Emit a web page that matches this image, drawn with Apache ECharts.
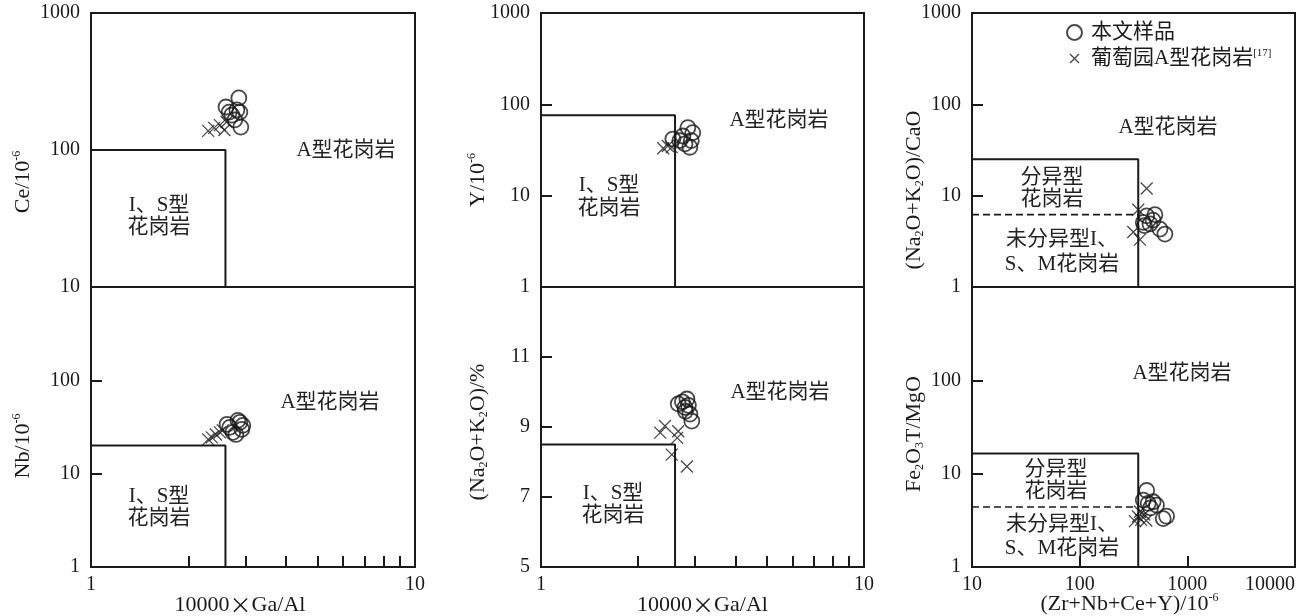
<!DOCTYPE html>
<html><head><meta charset="utf-8">
<script src="https://cdn.jsdelivr.net/npm/echarts@6/dist/echarts.min.js"></script>
<style>html,body{margin:0;padding:0;background:#fff}#c{width:1307px;height:616px}</style>
</head><body><div id="c"></div>
<script>
// ---------------- Data ----------------
// Panel (a): Ce vs 10000×Ga/Al
const aSampleGaAl = [2.86, 2.61, 2.82, 2.72, 2.88, 2.90, 2.78, 2.67];
const aSampleCe   = [240, 206, 196, 180, 189, 147, 166, 189];
const aRefGaAl    = [2.30, 2.40, 2.50, 2.58, 2.62];
const aRefCe      = [138, 145, 152, 140, 160];
const aBoxGaAl    = [1, 2.6, 2.6];
const aBoxCe      = [100, 100, 10];

// Panel (b): Nb vs 10000×Ga/Al
const bSampleGaAl = [2.63, 2.84, 2.92, 2.74, 2.94, 2.68, 2.80, 2.88];
const bSampleNb   = [33.8, 37.2, 29.8, 27.7, 32.9, 31.3, 26.3, 35.5];
const bRefGaAl    = [2.30, 2.36, 2.43, 2.50, 2.55];
const bRefNb      = [23.3, 24.5, 26.3, 27.7, 29.1];
const bBoxGaAl    = [1, 2.6, 2.6];
const bBoxNb      = [20, 20, 1];

// Panel (c): Y vs 10000×Ga/Al
const cSampleGaAl = [2.85, 2.95, 2.56, 2.69, 2.89, 2.79, 2.75, 2.92];
const cSampleY    = [55.6, 49, 41.7, 40, 33.9, 36.9, 45, 40];
const cRefGaAl    = [2.39, 2.47, 2.54];
const cRefY       = [33, 35, 34];
const cBoxGaAl    = [1, 2.6, 2.6];
const cBoxY       = [76, 76, 1];

// Panel (d): (Na2O+K2O) vs 10000×Ga/Al
const dSampleGaAl = [2.66, 2.83, 2.79, 2.89, 2.93, 2.74, 2.86, 2.80];
const dSampleAlk  = [9.66, 9.80, 9.56, 9.37, 9.17, 9.72, 9.62, 9.45];
const dRefGaAl    = [2.34, 2.42, 2.66, 2.64, 2.54, 2.83];
const dRefAlk     = [8.84, 9.03, 8.88, 8.69, 8.21, 7.87];
const dBoxGaAl    = [1, 2.6, 2.6];
const dBoxAlk     = [8.5, 8.5, 5];

// Panel (e): (Na2O+K2O)/CaO vs Zr+Nb+Ce+Y
const eSampleZr   = [419, 500, 390, 450, 557, 619, 400, 480];
const eSampleRat  = [6.0, 6.2, 5.1, 4.9, 4.3, 3.8, 4.7, 5.4];
const eRefZr      = [419, 350, 315, 363];
const eRefRat     = [12, 7, 4, 3.3];
const eBoxZr      = [10, 350, 350];
const eBoxRat     = [25, 25, 1];
const eDashZr     = [10, 350];
const eDashRat    = [6.2, 6.2];

// Panel (f): Fe2O3T/MgO vs Zr+Nb+Ce+Y
const fSampleZr   = [419, 390, 481, 517, 642, 597, 433, 455];
const fSampleRat  = [6.6, 5.2, 5.0, 4.6, 3.5, 3.3, 4.8, 4.3];
const fRefZr      = [348, 372, 398, 326, 415, 363];
const fRefRat     = [3.47, 3.2, 3.65, 3.1, 3.15, 3.9];
const fBoxZr      = [10, 350, 350];
const fBoxRat     = [16.4, 16.4, 1];
const fDashZr     = [10, 350];
const fDashRat    = [4.4, 4.4];

// Tick values
const gaAlMinorTicks = [2, 3, 4, 5, 6, 7, 8, 9];
const gaAlLabels     = [1, 10];
const alkTicks       = [7, 9, 11];
const alkLabels      = [5, 7, 9, 11];

// Series names
const SAMPLE = '本文样品';
const REF = '葡萄园A型花岗岩';

// ---------------- Styling ----------------
const FONT = '"Liberation Serif","Noto Sans CJK SC",serif';
const CJK = '"Liberation Serif","Noto Sans CJK SC",sans-serif';
const INK = '#1a1a1a';
const CROSS = 'path://M0,0L10,10M10,0L0,10';
const RICH = {
  sup: {fontSize: 12, lineHeight: 12, verticalAlign: 'top', fontFamily: FONT, color: INK},
  sub: {fontSize: 12, lineHeight: 12, verticalAlign: 'bottom', fontFamily: FONT, color: INK},
  x: {fontSize: 22, fontFamily: '"Noto Sans CJK SC"', color: INK}
};
const plain = v => String(Math.round(v * 1000) / 1000);

function zip(xs, ys) { return xs.map((x, i) => [x, ys[i]]); }

const gridRects = [
  {left: 91, top: 13, width: 324, height: 274},
  {left: 91, top: 287, width: 324, height: 280},
  {left: 541, top: 13, width: 323, height: 274},
  {left: 541, top: 287, width: 323, height: 280},
  {left: 972, top: 13, width: 323, height: 274},
  {left: 972, top: 287, width: 323, height: 280}
];
const grid = gridRects.map(g => Object.assign({
  show: true, borderColor: INK, borderWidth: 2, backgroundColor: 'rgba(0,0,0,0)',
  containLabel: false, outerBoundsMode: 'none'
}, g));

const tickStyle = {inside: true, length: 11, lineStyle: {color: INK, width: 2}};
const labelStyle = {fontSize: 20, fontFamily: FONT, color: INK, formatter: plain};

function topX(gi, min, max) {
  return {type: 'log', logBase: 10, gridIndex: gi, min, max,
    axisLine: {show: false}, axisTick: {show: false}, axisLabel: {show: false}, splitLine: {show: false}};
}
function botX(gi, extra) {
  return Object.assign({
    gridIndex: gi, axisLine: {show: false}, splitLine: {show: false},
    nameLocation: 'middle', nameGap: 27, nameMoveOverlap: false
  }, extra);
}
function yAx(gi, extra, name, gap, pad) {
  return Object.assign({
    gridIndex: gi, axisLine: {show: false}, splitLine: {show: false},
    axisTick: tickStyle,
    axisLabel: Object.assign({margin: 11}, labelStyle),
    name, nameLocation: 'middle', nameRotate: 90, nameGap: gap, nameMoveOverlap: false,
    nameTextStyle: {fontSize: 22, lineHeight: 24, fontFamily: FONT, color: INK, padding: [0, pad, 0, 0], rich: RICH}
  }, extra);
}

const xAxis = [
  topX(0, 1, 10),
  botX(1, {type: 'log', logBase: 10, min: 1, max: 10,
    axisTick: Object.assign({customValues: gaAlMinorTicks}, tickStyle),
    axisLabel: Object.assign({customValues: gaAlLabels, margin: 8}, labelStyle),
    name: '10000{x|×}Ga/Al',
    nameTextStyle: {fontSize: 22, fontFamily: FONT, color: INK, padding: [0, 26, 0, 0], rich: RICH}}),
  topX(2, 1, 10),
  botX(3, {type: 'log', logBase: 10, min: 1, max: 10,
    axisTick: Object.assign({customValues: gaAlMinorTicks}, tickStyle),
    axisLabel: Object.assign({customValues: gaAlLabels, margin: 8}, labelStyle),
    name: '10000{x|×}Ga/Al',
    nameTextStyle: {fontSize: 22, fontFamily: FONT, color: INK, rich: RICH}}),
  topX(4, 10, 10000),
  botX(5, {type: 'log', logBase: 10, min: 10, max: 10000,
    axisTick: tickStyle,
    axisLabel: Object.assign({margin: 8, alignMaxLabel: 'right'}, labelStyle),
    name: '(Zr+Nb+Ce+Y)/10{sup|-6}', nameGap: 25,
    nameTextStyle: {fontSize: 22, lineHeight: 24, fontFamily: FONT, color: INK, padding: [0, 8, 0, 0], rich: RICH}})
];

const yAxis = [
  yAx(0, {type: 'log', logBase: 10, min: 10, max: 1000}, 'Ce/10{sup|-6}', 56, 64),
  yAx(1, {type: 'log', logBase: 10, min: 1, max: 1000, axisLabel: Object.assign({margin: 11, showMaxLabel: false}, labelStyle)}, 'Nb/10{sup|-6}', 56, 38),
  yAx(2, {type: 'log', logBase: 10, min: 1, max: 1000}, 'Y/10{sup|-6}', 51, 60),
  yAx(3, {type: 'value', min: 5, max: 13,
    axisTick: Object.assign({customValues: alkTicks}, tickStyle),
    axisLabel: Object.assign({margin: 11, customValues: alkLabels}, labelStyle)}, '(Na{sub|2}O+K{sub|2}O)/%', 51, 10),
  yAx(4, {type: 'log', logBase: 10, min: 1, max: 1000}, '(Na{sub|2}O+K{sub|2}O)/CaO', 46, 80),
  yAx(5, {type: 'log', logBase: 10, min: 1, max: 1000, axisLabel: Object.assign({margin: 11, showMaxLabel: false}, labelStyle)}, 'Fe{sub|2}O{sub|3}T/MgO', 46, 14)
];

function sampleSeries(gi, xs, ys) {
  return {type: 'scatter', name: SAMPLE, xAxisIndex: gi, yAxisIndex: gi, data: zip(xs, ys),
    symbol: 'circle', symbolSize: 15, silent: true, z: 5,
    itemStyle: {color: 'rgba(255,255,255,0)', borderColor: INK, borderWidth: 1.8}};
}
function refSeries(gi, xs, ys) {
  return {type: 'scatter', name: REF, xAxisIndex: gi, yAxisIndex: gi, data: zip(xs, ys),
    symbol: CROSS, symbolSize: 12, silent: true, z: 4,
    itemStyle: {color: INK, borderColor: INK, borderWidth: 1.3}};
}
function lineSeries(gi, xs, ys, dashed) {
  return {type: 'line', xAxisIndex: gi, yAxisIndex: gi, data: zip(xs, ys),
    symbol: 'none', showSymbol: false, silent: true, z: 3,
    lineStyle: {color: INK, width: dashed ? 1.6 : 2, type: dashed ? [7, 4] : 'solid'}};
}

const series = [
  lineSeries(0, aBoxGaAl, aBoxCe), refSeries(0, aRefGaAl, aRefCe), sampleSeries(0, aSampleGaAl, aSampleCe),
  lineSeries(1, bBoxGaAl, bBoxNb), refSeries(1, bRefGaAl, bRefNb), sampleSeries(1, bSampleGaAl, bSampleNb),
  lineSeries(2, cBoxGaAl, cBoxY), refSeries(2, cRefGaAl, cRefY), sampleSeries(2, cSampleGaAl, cSampleY),
  lineSeries(3, dBoxGaAl, dBoxAlk), refSeries(3, dRefGaAl, dRefAlk), sampleSeries(3, dSampleGaAl, dSampleAlk),
  lineSeries(4, eBoxZr, eBoxRat), lineSeries(4, eDashZr, eDashRat, true), refSeries(4, eRefZr, eRefRat), sampleSeries(4, eSampleZr, eSampleRat),
  lineSeries(5, fBoxZr, fBoxRat), lineSeries(5, fDashZr, fDashRat, true), refSeries(5, fRefZr, fRefRat), sampleSeries(5, fSampleZr, fSampleRat)
];

// Field labels
function label(x, y, text, lh) {
  return {type: 'text', x, y, silent: true, z: 10,
    style: {text, fill: '#222', fontSize: 21, fontFamily: CJK, align: 'center', verticalAlign: 'middle', lineHeight: lh || 22}};
}
const graphic = [
  label(346, 150, 'A型花岗岩'),
  label(159, 216, 'I、S型\n花岗岩', 22),
  label(330, 402, 'A型花岗岩'),
  label(159, 507, 'I、S型\n花岗岩', 22),
  label(779, 120, 'A型花岗岩'),
  label(609, 197, 'I、S型\n花岗岩', 23),
  label(780, 392, 'A型花岗岩'),
  label(613, 504, 'I、S型\n花岗岩', 22),
  label(1168, 127, 'A型花岗岩'),
  label(1052, 188, '分异型\n花岗岩', 22),
  label(1062, 252, '未分异型I、\nS、M花岗岩', 25),
  label(1182, 373, 'A型花岗岩'),
  label(1056, 480, '分异型\n花岗岩', 22),
  label(1062, 536, '未分异型I、\nS、M花岗岩', 24)
];

const chart = echarts.init(document.getElementById('c'), null, {renderer: 'canvas'});
chart.setOption({
  animation: false,
  backgroundColor: '#fff',
  grid, xAxis, yAxis, series, graphic,
  legend: {
    show: true, orient: 'vertical', left: 1061, top: 17, itemWidth: 15, itemHeight: 15, itemGap: 5,
    selectedMode: false,
    textStyle: {fontSize: 21, fontFamily: CJK, color: INK, padding: [0, 0, 0, 4],
      rich: {sup: {fontSize: 11, lineHeight: 11, verticalAlign: 'top', fontFamily: FONT, color: INK}}},
    formatter: n => n === REF ? n + '{sup|[17]}' : n,
    data: [
      {name: SAMPLE, icon: 'circle', itemStyle: {color: 'rgba(255,255,255,0)', borderColor: INK, borderWidth: 2}},
      {name: REF, icon: 'path://M0,0M15,15M3,3L12,12M12,3L3,12', itemStyle: {color: INK, borderColor: INK, borderWidth: 1.4}}
    ]
  }
});
</script>
</body></html>
